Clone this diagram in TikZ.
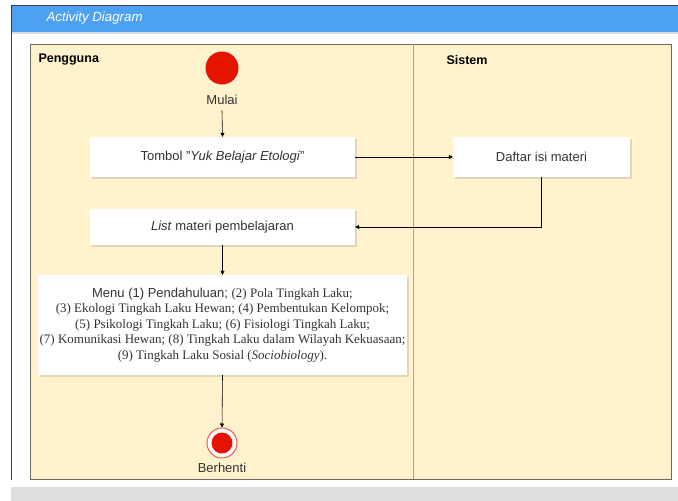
\documentclass[tikz,border=0pt]{standalone}
\usepackage{fontspec}
\setmainfont{Liberation Sans}
\newfontfamily\serifx{Liberation Serif}
\usetikzlibrary{shadows,arrows.meta}
\definecolor{lane}{HTML}{FFF2CC}
\definecolor{laneborder}{HTML}{6E6A5A}
\definecolor{divider}{HTML}{C9A43E}
\definecolor{hdr}{HTML}{4DA1F2}
\definecolor{startred}{HTML}{E51400}
\definecolor{txt}{HTML}{333333}
\tikzset{
  actbox/.style={draw=none, fill=white, minimum height=40pt, align=center, font=\fontsize{13}{15}\selectfont, text=txt,
    drop shadow={shadow xshift=2pt, shadow yshift=-2pt, opacity=0.25, fill=gray}},
  flow/.style={draw=black, line width=0.6pt, -{Triangle[length=4pt,width=4pt]}},
  lbl/.style={font=\fontsize{13}{15}\selectfont, text=txt},
  lanetitle/.style={font=\bfseries\fontsize{12.5}{14}\selectfont, anchor=west}
}
\begin{document}
\begin{tikzpicture}[x=1pt,y=-1pt]
\useasboundingbox (0,0) rectangle (678,501);
\fill[white] (0,0) rectangle (678,501);
% outer frame
\fill[hdr] (11,5) rectangle (678,32);
\fill[black!15] (11,32) rectangle (678,34);
\draw[black!75, line width=0.8pt] (11,480) -- (11,5) -- (678,5);
\fill[black!13] (11,487) rectangle (678,501);
\node[anchor=west, text=white, font=\itshape\fontsize{13.3}{15}\selectfont] (title) at (43,18) {Activity Diagram};
% swimlanes
\draw[fill=lane, draw=laneborder, line width=0.7pt] (30,44) rectangle (671,479);
\draw[divider, line width=1pt] (413,44) -- (413,479);
\node[lanetitle] (p) at (35,60) {Pengguna};
\node[lanetitle] (s) at (443,60) {Sistem};
% start
\node[circle, fill=startred, minimum size=33pt, inner sep=0pt] (start) at (222,68) {};
\node[lbl] (mulai) at (222,100) {Mulai};
% boxes
\node[actbox, minimum width=265pt] (tombol) at (222.5,157) {Tombol \char34\textit{Yuk Belajar Etologi}\char34};
\node[actbox, minimum width=177pt] (daftar) at (541.5,157) {Daftar isi materi};
\node[actbox, minimum width=265pt, minimum height=36pt] (list) at (222.5,227) {\textit{List} materi pembelajaran};
\node[actbox, minimum width=369pt, minimum height=100pt, inner sep=1pt, font=\fontsize{13}{15.5}\selectfont] (menu) at (222.5,325)
 {Menu (1) Pendahuluan; {\serifx (2) Pola Tingkah Laku;}\\
  {\serifx (3) Ekologi Tingkah Laku Hewan; (4) Pembentukan Kelompok;}\\
  {\serifx (5) Psikologi Tingkah Laku; (6) Fisiologi Tingkah Laku;}\\
  {\serifx (7) Komunikasi Hewan; (8) Tingkah Laku dalam Wilayah Kekuasaan;}\\
  {\serifx (9) Tingkah Laku Sosial (\textit{Sociobiology}).}};
% end
\node[circle, draw=startred!70, line width=1pt, fill=white, minimum size=30pt, inner sep=0pt] (endo) at (222,443) {};
\node[circle, fill=startred, minimum size=21pt, inner sep=0pt] (endi) at (222,443) {};
\node[lbl] (berhenti) at (222,468) {Berhenti};
% flows
\draw[flow] (mulai.south) ++(0,2) -- (tombol.north);
\draw[flow] (tombol.east) -- (daftar.west);
\draw[flow] (daftar.south) |- (list.east);
\draw[flow] (list.south) -- (menu.north);
\draw[flow] (menu.south) -- (endo.north);
\end{tikzpicture}
\end{document}
